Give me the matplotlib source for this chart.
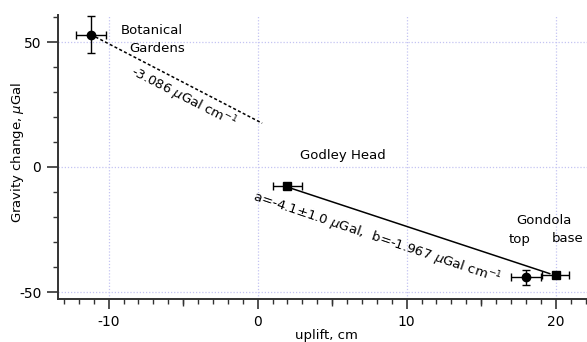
import matplotlib
matplotlib.use("Agg")
import matplotlib.pyplot as plt
import numpy as np
from matplotlib.ticker import MultipleLocator, FixedLocator, NullFormatter

plt.rcParams['font.family'] = ['DejaVu Sans']
plt.rcParams['mathtext.fontset'] = 'dejavusans'
plt.rcParams['axes.unicode_minus'] = False

# ---- data ----
circle_x = [-11.2, 18.0]          # Botanical Gardens, Gondola top
circle_y = [53.0, -44.0]
circle_xerr = [1.0, 1.0]
circle_yerr = [7.5, 3.0]

square_x = [2.0, 20.0]            # Godley Head, Gondola base
square_y = [-7.5, -43.0]
square_xerr = [1.0, 0.9]
square_yerr = [1.2, 1.2]

fit_a = -4.1
fit_b = -1.967
fit_x = [2.0, 19.6]

bot_slope = -3.086
bot_x = [-11.2, 0.3]
bot_y0 = 53.0

xticks = [-10, 0, 10, 20]
xmid_ticks = [-5, 5, 15]
yticks = [-50, 0, 50]

# ---- figure ----
W, H = 587, 342
fig = plt.figure(figsize=(W/100, H/100), dpi=100)
ax = fig.add_axes([58/W, 1-299/H, 529/W, (299-15)/H])
ax.set_xlim(-13.4, 22.1)
ax.set_ylim(-52.8, 60.8)

for s in ['top', 'right']:
    ax.spines[s].set_visible(False)
for s in ['left', 'bottom']:
    ax.spines[s].set_linewidth(1.4)
    ax.spines[s].set_color('#333333')

ax.set_xticks(xticks)
ax.set_yticks(yticks)
ax.xaxis.set_minor_locator(MultipleLocator(1))
ax.yaxis.set_minor_locator(MultipleLocator(10))
ax.tick_params(which='major', width=1.2, color='#333333', labelsize=10, pad=4)
ax.tick_params(axis='x', which='major', length=7.5)
ax.tick_params(axis='y', which='major', length=8)
ax.tick_params(which='minor', length=3.6, width=1.0, color='#333333')

# medium ticks at multiples of 5
sec = ax.secondary_xaxis('bottom')
sec.spines['bottom'].set_visible(False)
sec.xaxis.set_major_locator(FixedLocator(xmid_ticks))
sec.xaxis.set_major_formatter(NullFormatter())
sec.tick_params(length=5.2, width=1.0, color='#333333')

ax.grid(True, which='major', color='#c4c4f2', linestyle=(0, (1, 1.5)), linewidth=0.9)
ax.set_axisbelow(True)

# fit lines
fx = np.array(fit_x)
ax.plot(fx, fit_a + fit_b*fx, color='black', lw=1.1, zorder=2)
bx = np.array(bot_x)
ax.plot(bx, bot_y0 + bot_slope*(bx - bot_x[0]), color='black', lw=1.1,
        linestyle=(0, (2, 1.5)), zorder=2)

# points
ax.errorbar(circle_x, circle_y, xerr=circle_xerr, yerr=circle_yerr, fmt='o',
            color='black', ms=6, elinewidth=1.0, capsize=3, capthick=1.0, zorder=3)
ax.errorbar(square_x, square_y, xerr=square_xerr, yerr=square_yerr, fmt='s',
            color='black', ms=5.5, elinewidth=1.0, capsize=3, capthick=1.0, zorder=3)

# annotations
fs = 9.5
ax.text(-7.13, 54.4, 'Botanical', fontsize=fs, ha='center', va='center')
ax.text(-6.73, 47.2, 'Gardens', fontsize=fs, ha='center', va='center')
ax.text(5.7, 4.5, 'Godley Head', fontsize=fs, ha='center', va='center')
ax.text(19.2, -21.2, 'Gondola', fontsize=fs, ha='center', va='center')
ax.text(17.6, -28.8, 'top', fontsize=fs, ha='center', va='center')
ax.text(20.83, -28.8, 'base', fontsize=fs, ha='center', va='center')
ax.text(-5.0, 27.6, r'-3.086 $\mu$Gal cm$^{-1}$', fontsize=fs, ha='center', va='center',
        rotation=-27.1, rotation_mode='anchor')
ax.text(8.0, -28.4, r'a=-4.1$\pm$1.0 $\mu$Gal,  b=-1.967 $\mu$Gal cm$^{-1}$', fontsize=fs,
        ha='center', va='center', rotation=-18.6, rotation_mode='anchor')

fig.text(326.7/W, 1-335/H, 'uplift, cm', fontsize=fs, ha='center', va='center')
fig.text(18/W, 1-152/H, r'Gravity change, $\mu$Gal', fontsize=fs, ha='center', va='center',
         rotation=90)

fig.savefig('out.png', dpi=100)
